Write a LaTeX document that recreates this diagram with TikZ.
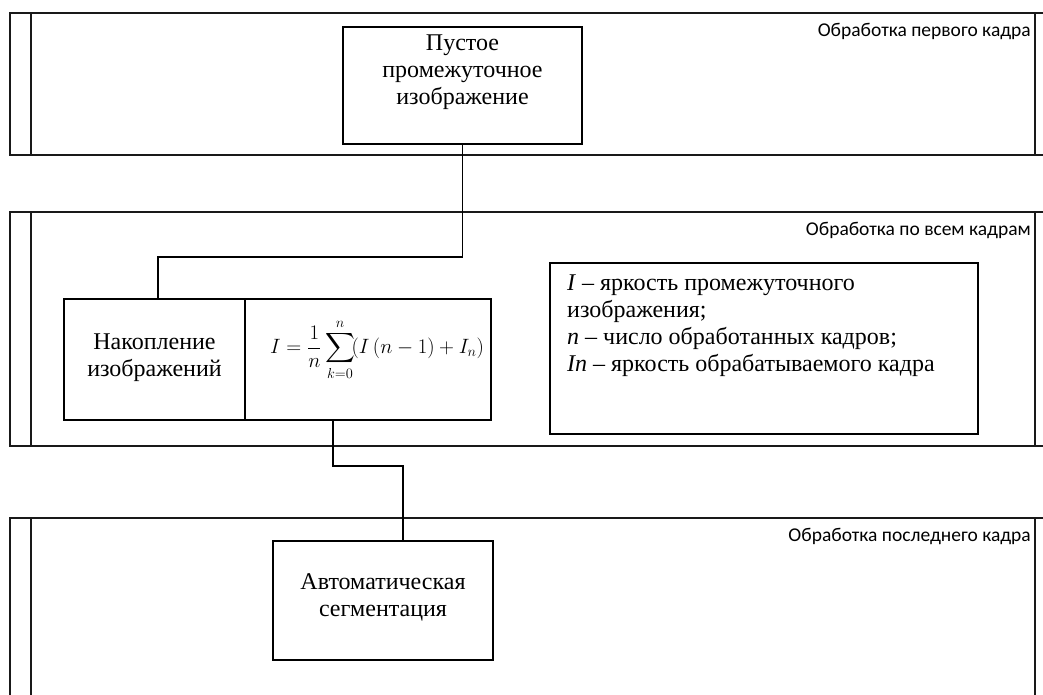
\documentclass[tikz,border=0pt]{standalone}
\usepackage{fontspec}
\setmainfont{Liberation Serif}
\newfontfamily\lanefont{Carlito}
\usepackage{amsmath}
\begin{document}
\begin{tikzpicture}[x=1pt,y=-1pt,
  lane/.style={line width=1.6pt,draw=black!90},
  box/.style={draw=black,line width=1.5pt,inner sep=0pt},
  conn/.style={draw=black,line width=1.3pt},
  txt/.style={font=\fontsize{24}{27}\selectfont,align=center,inner sep=0pt},
  lanelabel/.style={font=\lanefont\fontsize{19.5}{21}\selectfont,anchor=east,inner sep=0pt}]
\useasboundingbox (0,0) rectangle (1043,695);
\clip (0,0) rectangle (1043,695);
% lanes
\foreach \t/\b in {13/155,212/446,518/720}{
  \draw[lane] (1043,\t) -- (10,\t) -- (10,\b) -- (1043,\b);
  \draw[lane] (31,\t) -- (31,\b);
  \draw[lane] (1035,\t) -- (1035,\b);
}
\node[lanelabel] (l1) at (1031,31) {Обработка первого кадра};
\node[lanelabel] (l2) at (1031,230) {Обработка по всем кадрам};
\node[lanelabel] (l3) at (1031,536) {Обработка последнего кадра};
% boxes
\node[box,minimum width=239pt,minimum height=117pt] (top) at (462.5,85.5) {};
\node[txt] (toptxt) at (462.5,72) {Пустое\\промежуточное\\изображение};
\node[box,minimum width=181pt,minimum height=121pt] (acc) at (154.5,359.5) {};
\node[txt] (acctxt) at (154.5,358) {Накопление\\изображений};
\node[box,minimum width=246pt,minimum height=121pt] (form) at (368,359.5) {};
\node[txt,font=\fontsize{22}{26}\selectfont] (formtxt) at (377,350) {$\displaystyle I=\frac{1}{n}\sum_{k=0}^{n}\!(I\,(n-1)+I_n)$};
\node[box,minimum width=428pt,minimum height=171pt] (rbox) at (764,348.5) {};
\node[txt,align=left,anchor=north west] (rtxt) at (567,275)
  {\textit{I} – яркость промежуточного\\изображения;\\\textit{n} – число обработанных кадров;\\\textit{In} – яркость обрабатываемого кадра};
\node[box,minimum width=220pt,minimum height=119pt] (seg) at (383,600.5) {};
\node[txt] (segtxt) at (383,597) {Автоматическая\\сегментация};
% connectors
\coordinate (j1) at (158,257);
\coordinate (j2) at (403,466);
\draw[conn] (top.south) -- (top.south |- j1) -- (j1) -- (j1 |- acc.north);
\draw[conn] (form.south -| 333,0) -- (333,466) -- (j2) -- (j2 |- seg.north);
\end{tikzpicture}
\end{document}
